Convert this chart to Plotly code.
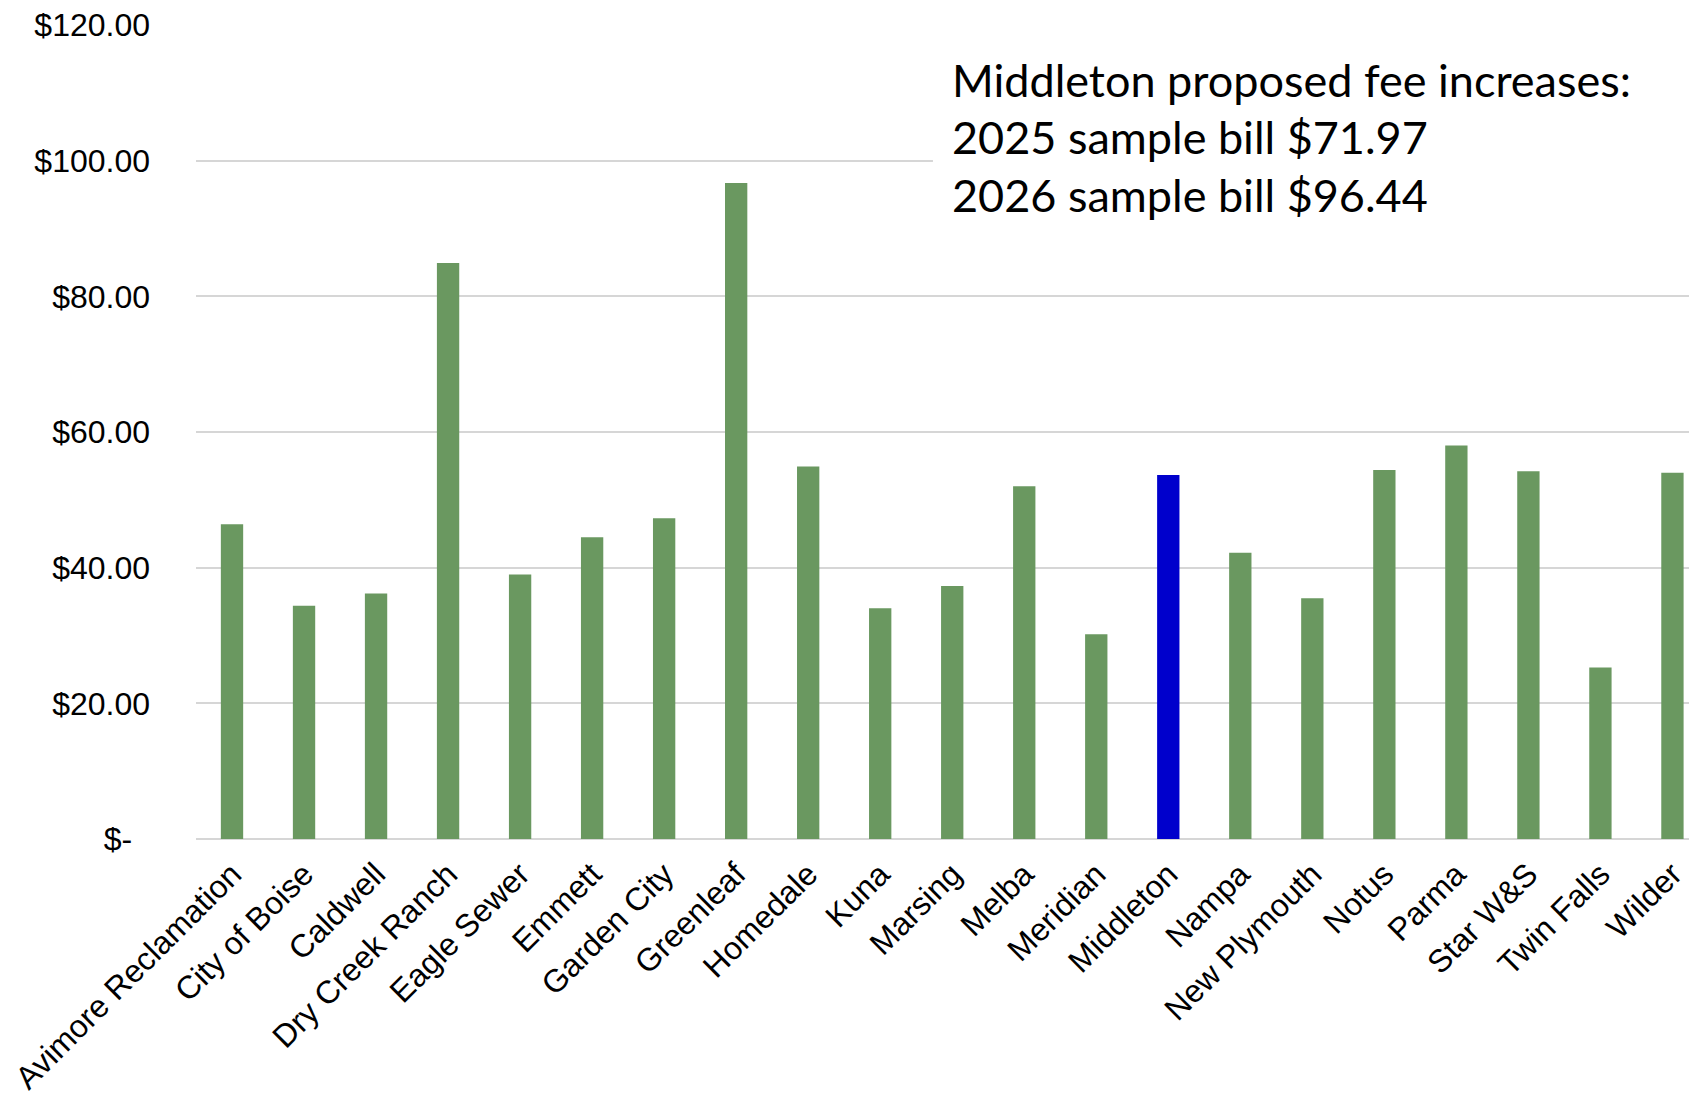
import plotly.graph_objects as go

categories = ["Avimore Reclamation", "City of Boise", "Caldwell", "Dry Creek Ranch",
              "Eagle Sewer", "Emmett", "Garden City", "Greenleaf", "Homedale", "Kuna",
              "Marsing", "Melba", "Meridian", "Middleton", "Nampa", "New Plymouth",
              "Notus", "Parma", "Star W&S", "Twin Falls", "Wilder"]
values = [46.4, 34.4, 36.2, 84.9, 39.0, 44.5, 47.3, 96.7, 54.9, 34.0,
          37.3, 52.0, 30.2, 53.65, 42.2, 35.5, 54.4, 58.0, 54.2, 25.3, 54.0]
highlight = "Middleton"

tick_vals = [0, 20, 40, 60, 80, 100, 120]
tick_text = ["$-\u00a0\u00a0", "$20.00", "$40.00", "$60.00", "$80.00", "$100.00", "$120.00"]

note_lines = ["Middleton proposed fee increases:",
              "2025 sample bill $71.97",
              "2026 sample bill $96.44"]
note_y = [111.9, 103.5, 95.0]

GREEN = "#6a9860"
BLUE = "#0000cc"
colors = [BLUE if c == highlight else GREEN for c in categories]

fig = go.Figure()
fig.add_trace(go.Bar(
    x=categories, y=values, marker=dict(color=colors, line=dict(width=0)),
    width=0.31, hoverinfo="x+y",
))

# white text-box background covering gridline
fig.add_shape(type="rect", xref="paper", yref="y", x0=0.4936, x1=1.0, y0=88, y1=117,
              fillcolor="white", line=dict(width=0), layer="above")

for txt, yy in zip(note_lines, note_y):
    fig.add_annotation(text=txt, xref="paper", yref="y", x=0.505, y=yy,
                       xanchor="left", yanchor="middle", showarrow=False,
                       font=dict(family="Lato", size=45, color="black"))

fig.update_layout(
    width=1689, height=1096,
    margin=dict(l=196, r=0, t=25, b=257, autoexpand=False),
    plot_bgcolor="white", paper_bgcolor="white",
    showlegend=False, bargap=0.69,
    font=dict(family="Liberation Sans, Arial", size=32, color="black"),
)
fig.update_xaxes(
    type="category", range=[-0.5, 20.23], tickangle=-45,
    showgrid=False, showline=False, zeroline=False, ticks="",
    ticklabelstandoff=9, automargin=False,
    tickfont=dict(family="Liberation Sans, Arial", size=32, color="black"),
)
fig.update_yaxes(
    range=[0, 120], tickvals=tick_vals, ticktext=tick_text,
    showgrid=True, gridcolor="#d6d6d6", gridwidth=2,
    zeroline=True, zerolinecolor="#d6d6d6", zerolinewidth=2,
    showline=False, ticks="", ticklabelstandoff=45, automargin=False,
    tickfont=dict(family="Liberation Sans, Arial", size=32, color="black"),
)

fig.write_html("out.html")
